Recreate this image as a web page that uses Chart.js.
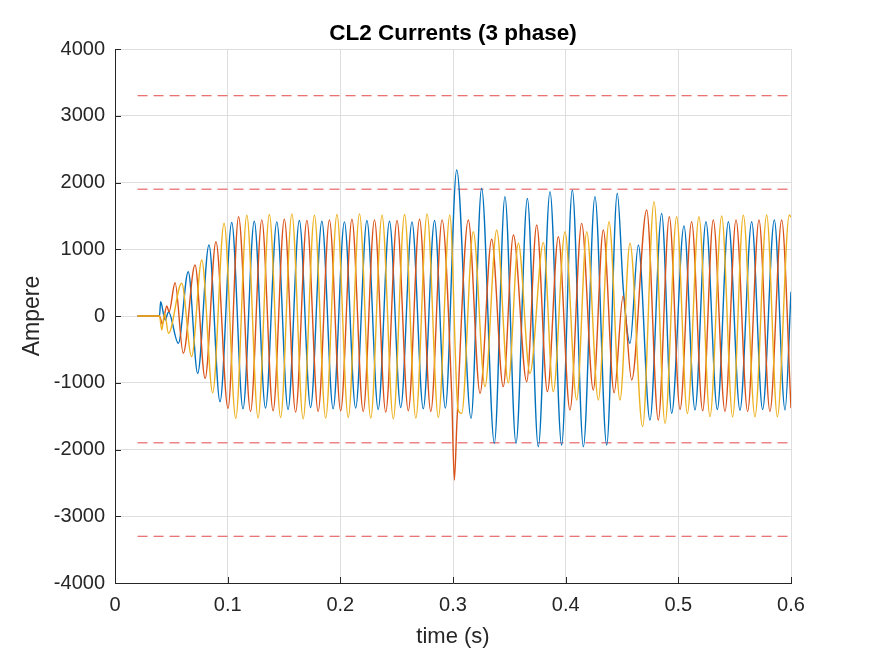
<!DOCTYPE html>
<html>
<head>
<meta charset="utf-8">
<title>CL2 Currents (3 phase)</title>
<script src="https://cdn.jsdelivr.net/npm/chart.js@4.4.1/dist/chart.umd.min.js"></script>
<style>
  html, body { margin: 0; padding: 0; background: #fff; }
  canvas { display: block; }
</style>
</head>
<body>
<canvas id="currents" width="875" height="656"></canvas>
<script>
// axis ticks
const xTicks = [0, 0.1, 0.2, 0.3, 0.4, 0.5, 0.6];
const xTickLabels = ['0', '0.1', '0.2', '0.3', '0.4', '0.5', '0.6'];
const yTicks = [-4000, -3000, -2000, -1000, 0, 1000, 2000, 3000, 4000];
const yTickLabels = ['-4000', '-3000', '-2000', '-1000', '0', '1000', '2000', '3000', '4000'];

// limit lines (dashed red)
const limitLevels = [3300, 1900, -1900, -3300];
const limitSpan = [0.02, 0.6];

// phase A (blue): turning points
const phaseA_t = [0.020, 0.0395, 0.0405, 0.0445, 0.0475, 0.0562, 0.065, 0.0734, 0.0834, 0.0932,
  0.1036, 0.1136, 0.1236, 0.1336, 0.1436, 0.1536, 0.1636, 0.1736, 0.1836, 0.1936,
  0.2036, 0.2136, 0.2236, 0.2336, 0.2436, 0.2536, 0.2636, 0.2736, 0.2836, 0.2932,
  0.3033, 0.316, 0.3254, 0.3367, 0.3461, 0.3559, 0.366, 0.3757, 0.3861, 0.3964,
  0.4059, 0.4157, 0.426, 0.4364, 0.4458, 0.4512, 0.4571, 0.4645, 0.4748, 0.4852, 0.4941,
  0.505, 0.5148, 0.5245, 0.5346, 0.5444, 0.5547, 0.5651, 0.5748, 0.5852, 0.5947, 0.600];
const phaseA_i = [0, 0, 214, -60, 60, -409, 664, -859, 1064, -1284,
  1400, -1390, 1420, -1380, 1410, -1400, 1430, -1370, 1420, -1390,
  1410, -1380, 1430, -1400, 1420, -1370, 1410, -1390, 1430, -1380,
  2187, -1533, 1913, -1908, 1788, -1908, 1760, -1958, 1863, -1933,
  1888, -1958, 1788, -1933, 1838, 390, -409, 1064, -1558, 1538, -1458,
  1350, -1408, 1413, -1400, 1413, -1410, 1413, -1400, 1438, -1408, 364];

// phase B (orange)
const phaseB_t = [0.020, 0.0395, 0.042, 0.046, 0.048, 0.0533, 0.0606, 0.071, 0.080, 0.0896, 0.1003, 0.1097,
  0.1203, 0.1303, 0.1403, 0.1503, 0.1603, 0.1703, 0.1803, 0.1903, 0.2003,
  0.2103, 0.2203, 0.2303, 0.2403, 0.2503, 0.2603, 0.2703, 0.2803, 0.2903,
  0.2988, 0.3012, 0.3035, 0.3136, 0.324, 0.3343, 0.3446, 0.3536, 0.3654, 0.3743, 0.3838,
  0.3935, 0.4038, 0.4142, 0.4245, 0.4334, 0.443, 0.451, 0.4586, 0.4719, 0.4822, 0.492,
  0.5015, 0.5118, 0.5216, 0.531, 0.5414, 0.5512, 0.5615, 0.5716, 0.5813, 0.5917, 0.600];
const phaseB_i = [0, 0, -120, 150, 60, 499, -559, 764, -934, 1113, -1383, 1488,
  -1430, 1440, -1420, 1450, -1440, 1430, -1430, 1440, -1420,
  1450, -1430, 1440, -1440, 1430, -1420, 1450, -1430, 1440,
  -1158, -2457, -1580, 1438, -1158, 1150, -1058, 1213, -984, 1363, -1133,
  1188, -1408, 1388, -1108, 1288, -1150, 300, -959, 1588, -1558, 1488,
  -1400, 1413, -1420, 1438, -1430, 1440, -1430, 1438, -1430, 1438, -1380];

// phase C (yellow)
const phaseC_t = [0.020, 0.0395, 0.0415, 0.044, 0.0475, 0.0592, 0.068, 0.077, 0.0867, 0.0968, 0.1072,
  0.117, 0.127, 0.137, 0.147, 0.157, 0.167, 0.177, 0.187, 0.197,
  0.207, 0.217, 0.227, 0.237, 0.247, 0.257, 0.267, 0.277, 0.287, 0.2972,
  0.3045, 0.3077, 0.318, 0.3284, 0.3388, 0.3491, 0.358, 0.3683, 0.3802, 0.389,
  0.3994, 0.4098, 0.4187, 0.429, 0.4385, 0.4482, 0.4571, 0.4683, 0.4784, 0.4882, 0.4985,
  0.508, 0.5183, 0.5281, 0.5385, 0.5482, 0.5577, 0.568, 0.5784, 0.5879, 0.5985, 0.600];
const phaseC_i = [0, 0, -210, 40, -260, 490, -609, 839, -1149, 1389, -1533,
  1510, -1530, 1520, -1520, 1530, -1540, 1510, -1530, 1520,
  -1520, 1530, -1530, 1510, -1540, 1520, -1530, 1530, -1520, 1513,
  -1400, -1458, 1263, -1058, 1288, -1000, 1089, -859, 1100, -1133,
  1263, -1258, 1263, -1258, 1413, -1258, 1089, -1658, 1713, -1608, 1488,
  -1460, 1488, -1508, 1498, -1510, 1510, -1510, 1513, -1510, 1513, 1480];

const FONT = '"Liberation Sans", Arial, Helvetica, sans-serif';
const AXIS = '#262626';

function points(ts, vs) {
  return ts.map((t, i) => ({ x: t, y: vs[i] }));
}

function phase(label, ts, vs, color, order) {
  return {
    label: label,
    data: points(ts, vs),
    borderColor: color,
    borderWidth: 1.4,
    pointRadius: 0,
    cubicInterpolationMode: 'monotone',
    fill: false,
    order: order
  };
}

const datasets = [
  phase('Ia', phaseA_t, phaseA_i, '#0072BD', 2),
  phase('Ib', phaseB_t, phaseB_i, '#D95319', 1),
  phase('Ic', phaseC_t, phaseC_i, '#EDB120', 0)
];
limitLevels.forEach(lvl => {
  datasets.push({
    label: 'limit ' + lvl,
    data: limitSpan.map(t => ({ x: t, y: lvl })),
    borderColor: 'rgba(225, 40, 40, 0.85)',
    borderWidth: 1,
    borderDash: [10, 6],
    pointRadius: 0,
    fill: false,
    order: 3
  });
});

// MATLAB style: ticks pointing into the axes
const inwardTicks = {
  id: 'inwardTicks',
  afterDraw(chart) {
    const { ctx, chartArea: a, scales: { x, y } } = chart;
    ctx.save();
    ctx.strokeStyle = AXIS;
    ctx.lineWidth = 1;
    ctx.beginPath();
    x.ticks.forEach(t => {
      const px = Math.round(x.getPixelForValue(t.value)) + 0.5;
      ctx.moveTo(px, a.bottom);
      ctx.lineTo(px, a.bottom - 6);
    });
    y.ticks.forEach(t => {
      const py = Math.round(y.getPixelForValue(t.value)) + 0.5;
      ctx.moveTo(a.left, py);
      ctx.lineTo(a.left + 6, py);
    });
    ctx.stroke();
    ctx.restore();
  }
};

new Chart(document.getElementById('currents'), {
  type: 'line',
  data: { datasets: datasets },
  options: {
    responsive: false,
    animation: false,
    layout: { padding: { left: 0, right: 84, top: 0, bottom: 0 } },
    plugins: {
      legend: { display: false },
      tooltip: { enabled: false },
      title: {
        display: true,
        fullSize: false,
        text: 'CL2 Currents (3 phase)',
        color: '#000',
        font: { family: FONT, size: 22.5, weight: 'bold', lineHeight: 1.2 },
        padding: { top: 20, bottom: 2 }
      }
    },
    scales: {
      x: {
        type: 'linear',
        min: 0,
        max: 0.6,
        afterBuildTicks: s => { s.ticks = xTicks.map(v => ({ value: v })); },
        afterFit: s => { s.height = 73; },
        ticks: {
          color: AXIS,
          padding: 10,
          maxRotation: 0,
          font: { family: FONT, size: 20 },
          callback: (v, i) => xTickLabels[i]
        },
        grid: { color: '#dedede', drawTicks: false },
        border: { color: AXIS },
        title: {
          display: true,
          text: 'time (s)',
          color: AXIS,
          font: { family: FONT, size: 22, lineHeight: 1.2 },
          padding: { top: 0, bottom: 6 }
        }
      },
      y: {
        min: -4000,
        max: 4000,
        afterBuildTicks: s => { s.ticks = yTicks.map(v => ({ value: v })); },
        afterFit: s => { s.width = 115; },
        ticks: {
          color: AXIS,
          padding: 10,
          font: { family: FONT, size: 20 },
          callback: (v, i) => yTickLabels[i]
        },
        grid: { color: '#dedede', drawTicks: false },
        border: { color: AXIS },
        title: {
          display: true,
          text: 'Ampere',
          color: AXIS,
          font: { family: FONT, size: 23, lineHeight: 1.2 },
          padding: { top: 19, bottom: 0 }
        }
      }
    }
  },
  plugins: [inwardTicks]
});
</script>
</body>
</html>
